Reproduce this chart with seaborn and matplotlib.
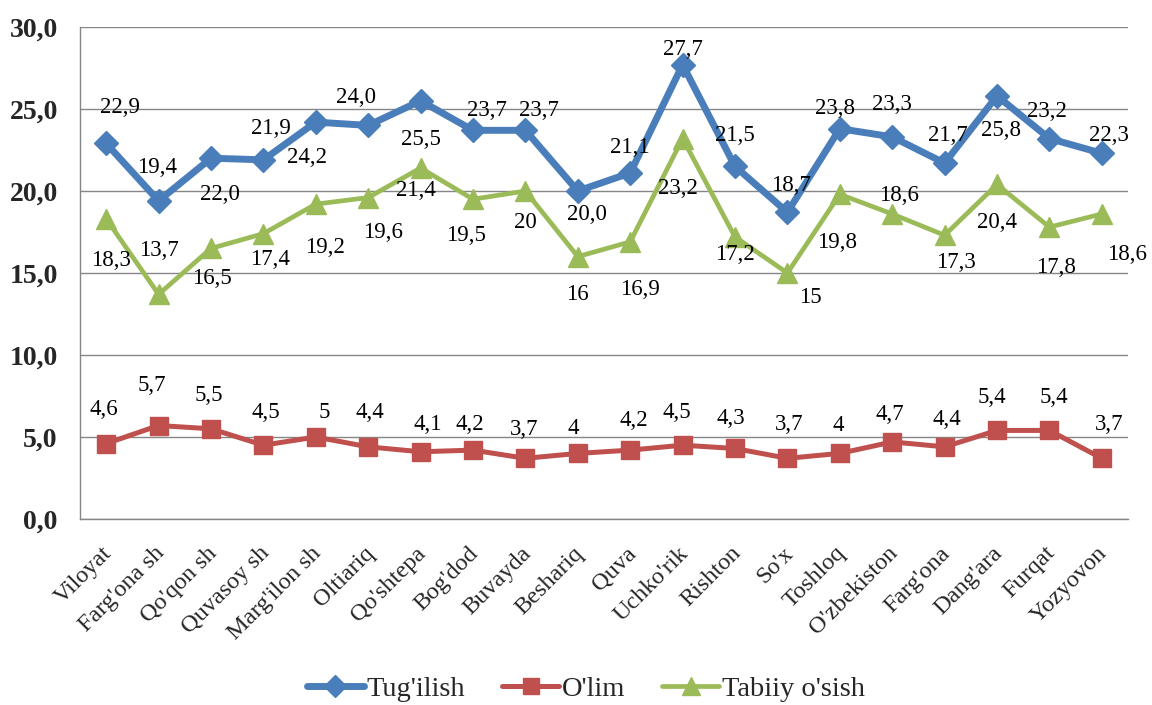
import numpy as np
import pandas as pd
import matplotlib
matplotlib.use("Agg")
import matplotlib.pyplot as plt
import matplotlib.transforms as mtransforms
import seaborn as sns

categories = ["Viloyat", "Farg'ona sh", "Qo'qon sh", "Quvasoy sh", "Marg'ilon sh",
              "Oltiariq", "Qo'shtepa", "Bog'dod", "Buvayda", "Beshariq", "Quva",
              "Uchko'rik", "Rishton", "So'x", "Toshloq", "O'zbekiston", "Farg'ona",
              "Dang'ara", "Furqat", "Yozyovon"]
tugilish = [22.9, 19.4, 22.0, 21.9, 24.2, 24.0, 25.5, 23.7, 23.7, 20.0, 21.1,
            27.7, 21.5, 18.7, 23.8, 23.3, 21.7, 25.8, 23.2, 22.3]
olim = [4.6, 5.7, 5.5, 4.5, 5, 4.4, 4.1, 4.2, 3.7, 4, 4.2, 4.5, 4.3, 3.7, 4,
        4.7, 4.4, 5.4, 5.4, 3.7]
tabiiy = [18.3, 13.7, 16.5, 17.4, 19.2, 19.6, 21.4, 19.5, 20, 16, 16.9, 23.2,
          17.2, 15, 19.8, 18.6, 17.3, 20.4, 17.8, 18.6]
series_names = ["Tug'ilish", "O'lim", "Tabiiy o'sish"]
y_ticks = [0, 5, 10, 15, 20, 25, 30]

# label offsets in pixels (dx right, dy down)
off_tug = [(14, -38), (-2, -36), (9, 34), (8, -34), (-9, 33), (-12, -30), (0, 36),
           (14, -22), (14, -22), (9, 21), (0, -28), (0, -18), (0, -33), (4, -29),
           (-5, -23), (0, -35), (3, -30), (4, 32), (-2, -30), (7, -20)]
off_olim = [(-2, -37), (-7, -43), (-2, -36), (2, -35), (8, -27), (2, -37), (7, -30),
            (-3, -28), (-1, -31), (-5, -27), (4, -32), (-6, -35), (-4, -32), (2, -36),
            (-2, -30), (-2, -30), (2, -30), (-5, -35), (4, -35), (7, -36)]
off_tab = [(5, 39), (0, -46), (1, 28), (7, 23), (9, 41), (15, 32), (-5, 20), (-7, 34),
           (0, 29), (0, 35), (10, 45), (-5, 47), (0, 15), (23, 22), (-3, 46), (7, -21),
           (11, 25), (0, 36), (7, 38), (25, 38)]

sns.set_style("white")
plt.rcParams['font.family'] = ['Liberation Serif', 'DejaVu Serif']

fig = plt.figure(figsize=(11.52, 7.05), dpi=100)
ax = fig.add_axes([80/1152, 1-519/705, (1128-80)/1152, (519-27)/705])

x = np.arange(len(categories))
df = pd.DataFrame({"x": x, "Tug": tugilish, "Olim": olim, "Tab": tabiiy})

styles = [
    ("Tug", "#4A7EBB", "D", 12, 5.0, series_names[0]),
    ("Olim", "#C0504D", "s", 12.5, 3.6, series_names[1]),
    ("Tab", "#9BBB59", "^", 14, 3.4, series_names[2]),
]
for col, color, mk, ms, lw, name in styles:
    sns.lineplot(data=df, x="x", y=col, ax=ax, color=color, marker=mk,
                 markersize=ms, linewidth=lw, markeredgecolor=color,
                 markeredgewidth=1, label=name, sort=False, zorder=3)

def fmt1(v):
    return f"{v:.1f}".replace(".", ",")

def fmtg(v):
    return f"{v:g}".replace(".", ",")

for vals, offs, f in [(tugilish, off_tug, fmt1), (olim, off_olim, fmtg), (tabiiy, off_tab, fmtg)]:
    for i, v in enumerate(vals):
        dx, dy = offs[i]
        ax.annotate(f(v), (x[i], v), xytext=(dx, -dy), textcoords="offset pixels",
                    ha="center", va="center_baseline", fontsize=16.5, color="black",
                    zorder=5)

ax.set_xlim(-0.5, len(categories) - 0.5)
ax.set_ylim(0, 30)
ax.set_yticks(y_ticks)
ax.set_yticklabels([fmt1(t) for t in y_ticks], fontsize=20, fontweight="bold")
ax.set_xticks(x)
ax.set_xticklabels(categories, rotation=45, ha="right", rotation_mode="anchor",
                   fontsize=17.5)
ax.set_xticks(np.arange(len(categories) + 1) - 0.5, minor=True)
ax.tick_params(axis="x", which="major", length=0, pad=17)
ax.tick_params(axis="x", which="minor", length=6, width=1, color="#868686", direction="out")
ax.tick_params(axis="y", which="major", length=7, width=1, color="#868686", direction="out", pad=9)
for lab in ax.get_xticklabels():
    lab.set_transform(lab.get_transform() + mtransforms.Affine2D().translate(-5, 0))

ax.grid(axis="y", color="#868686", linewidth=1)
ax.grid(axis="x", visible=False)
for s in ["top", "right"]:
    ax.spines[s].set_visible(False)
for s in ["left", "bottom"]:
    ax.spines[s].set_color("#868686")
    ax.spines[s].set_linewidth(1)
ax.set_xlabel("")
ax.set_ylabel("")

handles, labels = ax.get_legend_handles_labels()
ax.get_legend().remove()
fig.legend(handles, labels, loc="center", bbox_to_anchor=(586/1152, 1-689/705),
           ncol=3, frameon=False, fontsize=20.5, handlelength=2.0,
           handletextpad=0.1, columnspacing=1.3, markerscale=0.9,
           borderpad=0.1)

fig.savefig("out.png", dpi=100)
